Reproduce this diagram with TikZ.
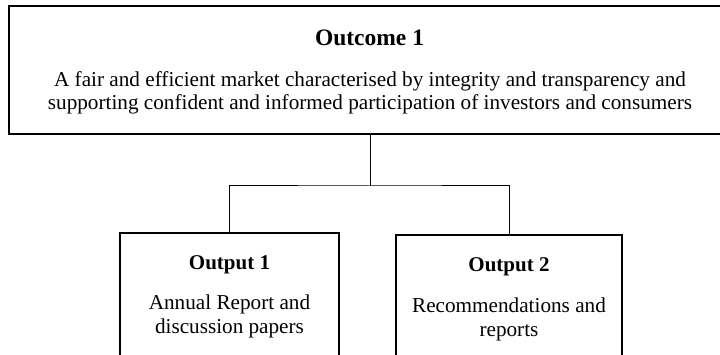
\documentclass[tikz,border=0pt]{standalone}
\usepackage{fontspec}
\setmainfont{Liberation Serif}
\usetikzlibrary{positioning}

\tikzset{
	box/.style={draw, line width=1.3pt, rectangle},
	link/.style={draw, line width=1pt},
	txt/.style={align=center, font=\fontsize{21.2}{23.5}\selectfont, inner sep=0pt},
	head/.style={font=\fontsize{21}{24}\selectfont\bfseries, inner sep=0pt}
}

\begin{document}
\begin{tikzpicture}[x=1pt,y=-1pt]
		\useasboundingbox (0,0) rectangle (720,355);
		\clip (0,0) rectangle (720,355);

		\node[box, minimum width=730pt, minimum height=128pt] (outcome) at (374,70) {};
		\node[head, font=\fontsize{23.5}{26}\selectfont\bfseries] (outcometitle) at (369.5,38) {Outcome 1};
		\node[txt] (outcometext) at (370,93) {A fair and efficient market characterised by integrity and transparency and\\supporting confident and informed participation of investors and consumers};

		\node[box, minimum width=219pt, minimum height=150pt] (out1) at (229.5,308) {};
		\node[head] (out1title) at (229.5,265) {Output 1};
		\node[txt] (out1text) at (229.5,316.5) {Annual Report and\\discussion papers};

		\node[box, minimum width=226pt, minimum height=150pt] (out2) at (509,310) {};
		\node[head] (out2title) at (509,267) {Output 2};
		\node[txt] (out2text) at (509,319.5) {Recommendations and\\reports};

		\coordinate (split) at (370,186);
		\draw[link] (split |- outcome.south) -- (split);
		\draw[link] (out1.north) |- (split) -| (out2.north);
	\end{tikzpicture}
\end{document}
